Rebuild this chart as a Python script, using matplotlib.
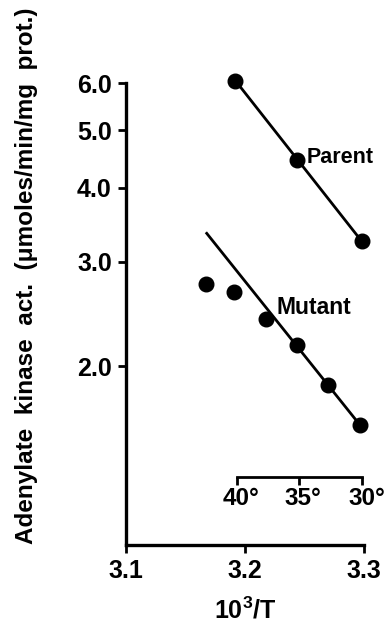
import numpy as np
import matplotlib.pyplot as plt

plt.rcParams['font.family'] = ['Liberation Sans', 'DejaVu Sans']
plt.rcParams['font.weight'] = 'bold'
plt.rcParams['axes.labelweight'] = 'bold'
plt.rcParams['mathtext.fontset'] = 'custom'
plt.rcParams['mathtext.rm'] = 'Liberation Sans:bold'
plt.rcParams['mathtext.it'] = 'Liberation Sans:bold'
plt.rcParams['mathtext.bf'] = 'Liberation Sans:bold'

# activity vs reciprocal temperature (10^3/T)
parent_x = [3.192, 3.244, 3.298]
parent_y = [6.06, 4.46, 3.25]
mutant_x = [3.167, 3.191, 3.218, 3.244, 3.270, 3.297]
mutant_y = [2.75, 2.67, 2.40, 2.17, 1.86, 1.59]

# fitted lines (end points)
parent_fit_x = [3.192, 3.298]
parent_fit_y = [6.06, 3.25]
mutant_fit_x = [3.168, 3.298]
mutant_fit_y = [3.35, 1.58]

# temperature scale (deg C)
temps_c = [40, 35, 30]
temp_scale_y = 1.30

yticks = [2.0, 3.0, 4.0, 5.0, 6.0]
xticks = [3.1, 3.2, 3.3]

fig = plt.figure(figsize=(3.85, 6.25), dpi=100)
ax = fig.add_axes([0.3265, 0.128, 0.619, 0.739])

ax.plot(parent_fit_x, parent_fit_y, color='black', lw=2, clip_on=False)
ax.plot(mutant_fit_x, mutant_fit_y, color='black', lw=2, clip_on=False)
ax.plot(parent_x, parent_y, 'o', color='black', ms=10.5, clip_on=False)
ax.plot(mutant_x, mutant_y, 'o', color='black', ms=10.5, clip_on=False)

ax.text(parent_x[1] + 0.008, parent_y[1] * 1.01, 'Parent', fontsize=15.5,
        va='center', ha='left')
ax.text(3.2266, 2.51, 'Mutant', fontsize=16.5, va='center', ha='left')

# inner scale of temperatures
tx = [1000.0 / (t + 273.15) for t in temps_c]
ax.plot([tx[0], tx[-1]], [temp_scale_y, temp_scale_y], color='black', lw=2)
ax.plot(tx, [temp_scale_y] * len(tx), ls='none', marker=3, ms=6,
        mew=2, color='black')
for x, t in zip(tx, temps_c):
    ax.annotate(f'{t}°', (x, temp_scale_y), xytext=(3, -7),
                textcoords='offset points', ha='center', va='top',
                fontsize=17.5, annotation_clip=False)

ax.set_yscale('log')
ax.set_ylim(1.0, 6.0)
ax.set_xlim(3.1, 3.3)
ax.set_yticks(yticks)
ax.set_yticklabels([f'{v:.1f}' for v in yticks])
ax.yaxis.set_minor_locator(plt.NullLocator())
ax.set_xticks(xticks)
ax.set_xticklabels([f'{v:.1f}' for v in xticks])

for side in ['top', 'right']:
    ax.spines[side].set_visible(False)
for side in ['left', 'bottom']:
    ax.spines[side].set_linewidth(2.4)
ax.tick_params(axis='both', which='major', direction='out', length=6,
               width=2, labelsize=18, pad=4)

ax.set_xlabel(r'10$^3$/T', fontsize=18, fontweight='bold', labelpad=10)
fig.text(27 / 385, 1 - 276 / 625,
         'Adenylate  kinase  act.  (\u03bcmoles/min/mg  prot.)',
         rotation=90, ha='center', va='center', fontsize=17.5)

fig.savefig('out.png', dpi=100)
